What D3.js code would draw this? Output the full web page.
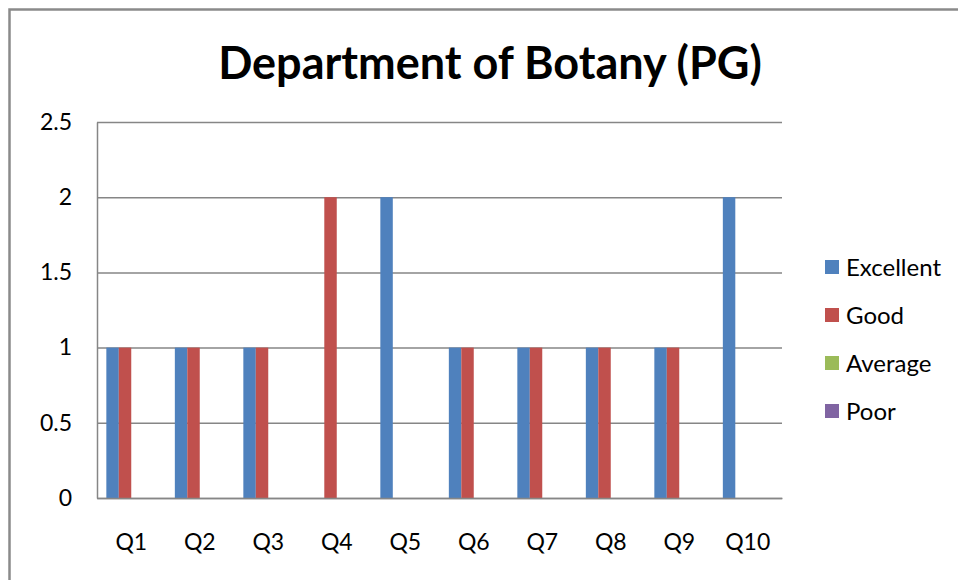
<!DOCTYPE html>
<html>
<head>
<meta charset="utf-8">
<script src="https://cdn.jsdelivr.net/npm/d3@7"></script>
<style>
  body { margin: 0; background: #fff; }
  svg { display: block; font-family: Lato, "Open Sans", sans-serif; }
</style>
</head>
<body>
<div id="chart"></div>
<script>
(function () {

// Data
const categories = ["Q1", "Q2", "Q3", "Q4", "Q5", "Q6", "Q7", "Q8", "Q9", "Q10"];
const seriesNames = ["Excellent", "Good", "Average", "Poor"];
const excellent = [1, 1, 1, 0, 2, 1, 1, 1, 1, 2];
const good = [1, 1, 1, 2, 0, 1, 1, 1, 1, 0];
const average = [0, 0, 0, 0, 0, 0, 0, 0, 0, 0];
const poor = [0, 0, 0, 0, 0, 0, 0, 0, 0, 0];
const yTicks = [0, 0.5, 1, 1.5, 2, 2.5];
const colors = ["#4F81BD", "#C0504D", "#9BBB59", "#8064A2"];

const seriesValues = [excellent, good, average, poor];

// Dimensions
const width = 958, height = 580;
const plot = { left: 97, right: 782, top: 122, bottom: 498 };

const svg = d3.select("#chart")
    .append("svg")
    .attr("width", width)
    .attr("height", height);

// Outer chart frame (runs off the bottom/right of the picture)
svg.append("rect")
    .attr("x", 9.5)
    .attr("y", 9.5)
    .attr("width", 1200)
    .attr("height", 900)
    .attr("fill", "none")
    .attr("stroke", "#8a8a8a")
    .attr("stroke-width", 2.5);

// Title
svg.append("text")
    .attr("x", 490)
    .attr("y", 79)
    .attr("text-anchor", "middle")
    .style("font-size", "45px")
    .style("font-weight", "bold")
    .text("Department of Botany (PG)");

// Scales
const x = d3.scaleBand()
    .domain(categories)
    .range([plot.left, plot.right])
    .paddingInner(1.5 / 5.5)
    .paddingOuter(0.75 / 5.5);

const xSub = d3.scaleBand()
    .domain(seriesNames)
    .range([0, x.bandwidth()]);

const y = d3.scaleLinear()
    .domain([0, 2.5])
    .range([plot.bottom, plot.top]);

// Y axis with gridlines
const yAxis = svg.append("g")
    .attr("transform", `translate(${plot.left},0)`)
    .call(d3.axisLeft(y)
        .tickValues(yTicks)
        .tickFormat(d3.format("~g"))
        .tickSizeInner(-(plot.right - plot.left))
        .tickSizeOuter(0)
        .tickPadding(25));

yAxis.select(".domain").attr("stroke", "#868686").attr("stroke-width", 1.5);
yAxis.selectAll(".tick line").attr("stroke", "#868686").attr("stroke-width", 1.5);
yAxis.selectAll(".tick text")
    .attr("fill", "#000")
    .style("font-size", "23px")
    .style("font-family", "Lato, sans-serif");

// Bars
const groups = svg.append("g")
    .selectAll("g")
    .data(seriesNames)
    .join("g")
    .attr("fill", (d, i) => colors[i]);

groups.selectAll("rect")
    .data((name, i) => categories.map((c, j) => ({ cat: c, name: name, value: seriesValues[i][j] })))
    .join("rect")
    .attr("x", d => x(d.cat) + xSub(d.name))
    .attr("y", d => y(d.value))
    .attr("width", xSub.bandwidth())
    .attr("height", d => y(0) - y(d.value));

// X axis
const xAxis = svg.append("g")
    .attr("transform", `translate(0,${plot.bottom})`)
    .call(d3.axisBottom(x).tickSize(0).tickPadding(36));

xAxis.select(".domain").attr("stroke", "#868686").attr("stroke-width", 1.5);
xAxis.selectAll(".tick text")
    .attr("fill", "#000")
    .style("font-size", "23px")
    .style("font-family", "Lato, sans-serif");

// Legend
const legend = svg.append("g")
    .selectAll("g")
    .data(seriesNames)
    .join("g")
    .attr("transform", (d, i) => `translate(825,${267 + i * 48})`);

legend.append("rect")
    .attr("x", 0)
    .attr("y", -7)
    .attr("width", 14)
    .attr("height", 14)
    .attr("fill", (d, i) => colors[i]);

legend.append("text")
    .attr("x", 21)
    .attr("y", 0)
    .attr("dy", "0.36em")
    .style("font-size", "24px")
    .text(d => d);

})();
</script>
</body>
</html>
